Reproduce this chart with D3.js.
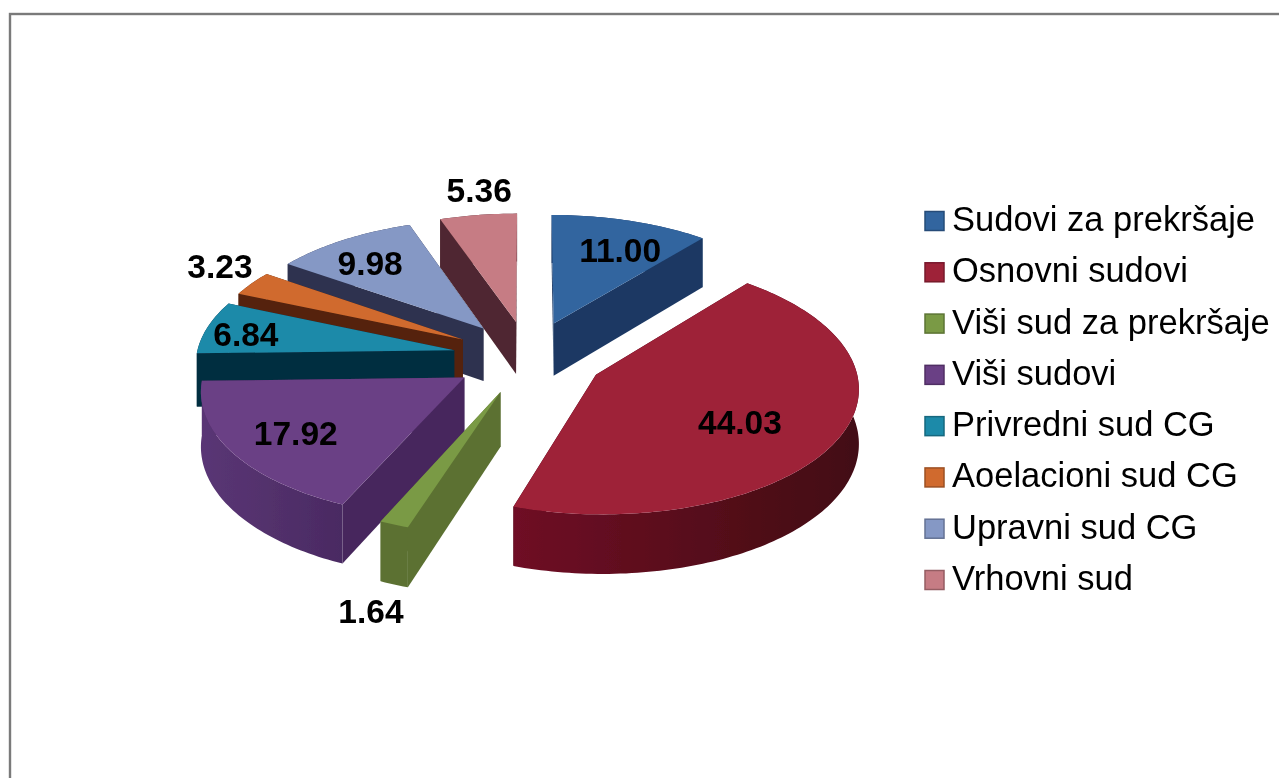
<!DOCTYPE html>
<html>
<head>
<meta charset="utf-8">
<script src="https://cdn.jsdelivr.net/npm/d3@7"></script>
<style>
  html, body { margin: 0; padding: 0; background: #fff; overflow: hidden; }
  svg { display: block; }
</style>
</head>
<body>
<div id="chart"></div>
<script>
// Chart data
const categories = ['Sudovi za prekršaje', 'Osnovni sudovi', 'Viši sud za prekršaje', 'Viši sudovi',
  'Privredni sud CG', 'Aoelacioni sud CG', 'Upravni sud CG', 'Vrhovni sud'];
const values = [11.00, 44.03, 1.64, 17.92, 6.84, 3.23, 9.98, 5.36];

// Colours
const topColors = ['#33659f', '#9e2039', '#7a9a45', '#6b3f85', '#1f8aa9', '#d06b2f', '#8598c5', '#c67c84'];
const faceColors = ['#1a3864', '#40060f', '#5c7132', '#47285d', '#052e40', '#54230f', '#2e324f', '#4f2831'];
const wallLeftColors = ['#1a3864', '#6f0d25', '#5c7132', '#5a3675', '#052e40', '#54230f', '#2e324f', '#4f2831'];
const wallRightColors = ['#1a3864', '#420812', '#5c7132', '#4a2a62', '#052e40', '#54230f', '#2e324f', '#4f2831'];

// Label placement: fraction of the radius and angle in degrees from the slice's own apex
const labelRadius = [0.716, 0.632, 1.518, 0.744, 0.841, 1.212, 0.758, 1.252];
const labelAngle = [22.9, 124.7, 195.9, 235.9, 279.1, 302, 320.1, 352];

// Layout
const width = 1279, height = 778;
const cx = 528.5, cy = 357;
const R = 258, explode = 76, depth = 53.5;
const tilt = 0.48, perspective = 0.0887;

const svg = d3.select('#chart').append('svg')
  .attr('width', width)
  .attr('height', height);

const defs = svg.append('defs');

// The source picture is a little soft
defs.append('filter')
  .attr('id', 'soft')
  .attr('filterUnits', 'userSpaceOnUse')
  .attr('x', 0).attr('y', 0).attr('width', width).attr('height', height)
  .append('feGaussianBlur')
  .attr('stdDeviation', 0.6);

const root = svg.append('g').attr('filter', 'url(#soft)');

// Frame runs off the right and bottom of the picture
root.append('rect')
  .attr('x', 10).attr('y', 14)
  .attr('width', width + 20).attr('height', height + 20)
  .attr('fill', '#fff')
  .attr('stroke', '#7a7a7a')
  .attr('stroke-width', 2.4);

const topColor = d3.scaleOrdinal(categories, topColors);
const faceColor = d3.scaleOrdinal(categories, faceColors);

const pie = d3.pie().value(d => d.value).sort(null);
const slices = pie(categories.map((name, i) => ({ name, value: values[i], i })));

// Project a point of the slice's own plane to the screen. z is height below the top face.
function project(slice, r, angle, z) {
  const mid = (slice.startAngle + slice.endAngle) / 2;
  const X = explode * Math.sin(mid) + r * Math.sin(angle);
  const Z = explode * Math.cos(mid) + r * Math.cos(angle);
  const s = 1 / (1 + perspective * Z / R);
  return [cx + X * s, cy - Z * tilt * s + z * s];
}

const line = d3.line();

function arcPoints(slice, z) {
  const n = Math.max(4, Math.ceil((slice.endAngle - slice.startAngle) / 0.02));
  return d3.range(n + 1).map(k =>
    project(slice, R, slice.startAngle + (slice.endAngle - slice.startAngle) * k / n, z));
}

function edgeFace(slice, angle) {
  return line([
    project(slice, 0, angle, 0), project(slice, R, angle, 0),
    project(slice, R, angle, depth), project(slice, 0, angle, depth)
  ]) + 'Z';
}

// Far slices first so the near ones paint over them
const order = slices.slice().sort((a, b) =>
  Math.cos((b.startAngle + b.endAngle) / 2) - Math.cos((a.startAngle + a.endAngle) / 2));

const sliceG = root.append('g').selectAll('g')
  .data(order)
  .join('g');

sliceG.each(function(d) {
  const g = d3.select(this);
  const mid = (d.startAngle + d.endAngle) / 2;
  const name = d.data.name;

  // The cut face nearer the viewer is drawn second
  const angles = Math.sin(mid) > 0 ? [d.startAngle, d.endAngle] : [d.endAngle, d.startAngle];
  angles.forEach(a => {
    g.append('path').attr('d', edgeFace(d, a)).attr('fill', faceColor(name));
  });

  // Outer wall with a left to right shade
  const top = arcPoints(d, 0), bottom = arcPoints(d, depth).reverse();
  const xs = d3.extent(top, p => p[0]);
  const gradId = 'wall' + d.data.i;
  const grad = defs.append('linearGradient')
    .attr('id', gradId)
    .attr('gradientUnits', 'userSpaceOnUse')
    .attr('x1', xs[0]).attr('x2', xs[1]).attr('y1', 0).attr('y2', 0);
  grad.append('stop').attr('offset', 0).attr('stop-color', wallLeftColors[d.data.i]);
  grad.append('stop').attr('offset', 1).attr('stop-color', wallRightColors[d.data.i]);
  g.append('path').attr('d', line(top.concat(bottom)) + 'Z').attr('fill', `url(#${gradId})`);

  // Top face
  g.append('path')
    .attr('d', line([project(d, 0, d.startAngle, 0)].concat(top)) + 'Z')
    .attr('fill', topColor(name));
});

// Value labels
root.append('g').selectAll('text')
  .data(slices)
  .join('text')
  .attr('transform', d => {
    const p = project(d, R * labelRadius[d.data.i], labelAngle[d.data.i] * Math.PI / 180, 0);
    return `translate(${p[0]},${p[1]})`;
  })
  .attr('text-anchor', 'middle')
  .attr('dx', 1.5)
  .attr('dy', '0.36em')
  .attr('font-family', '"Liberation Sans", Arial, sans-serif')
  .attr('font-weight', 'bold')
  .attr('font-size', 33.5)
  .attr('fill', '#000')
  .text(d => d.data.value.toFixed(2));

// Legend
const legendY = d3.scalePoint().domain(categories).range([221, 580]);

const legend = root.append('g').selectAll('g')
  .data(categories)
  .join('g')
  .attr('transform', d => `translate(925,${legendY(d)})`);

legend.append('rect')
  .attr('x', 0).attr('y', -9.5)
  .attr('width', 19).attr('height', 19)
  .attr('fill', d => topColor(d))
  .attr('stroke', d => d3.color(topColor(d)).darker(0.8))
  .attr('stroke-width', 1.5);

legend.append('text')
  .attr('x', 27)
  .attr('y', 10)
  .attr('font-family', '"Liberation Sans", Arial, sans-serif')
  .attr('font-size', 34.5)
  .attr('fill', '#000')
  .text(d => d);
</script>
</body>
</html>
